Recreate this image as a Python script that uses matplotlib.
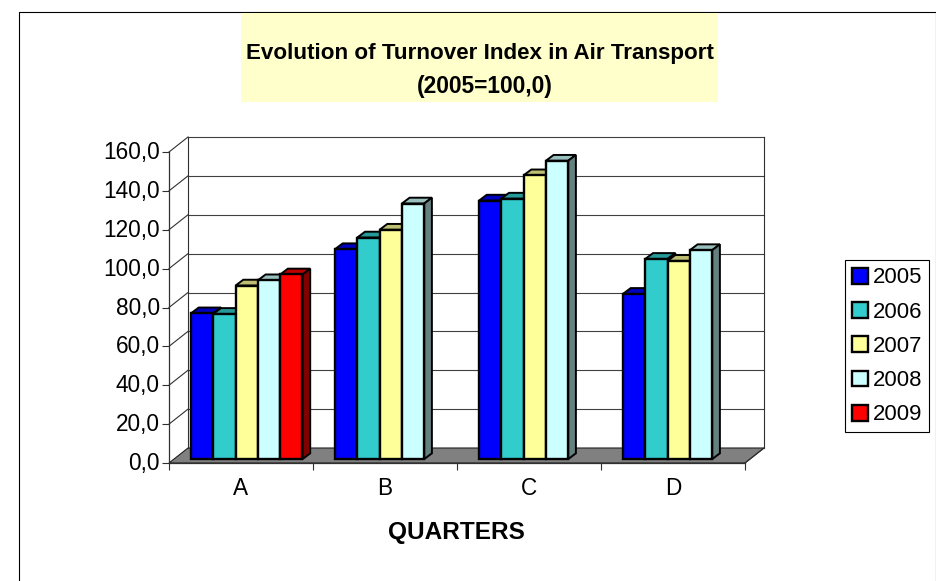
import matplotlib
matplotlib.use('Agg')
import numpy as np
import matplotlib.pyplot as plt
from matplotlib.patches import Polygon, Rectangle
from matplotlib.transforms import ScaledTranslation

plt.rcParams['font.family'] = ['Liberation Sans', 'DejaVu Sans']

quarters = ['A', 'B', 'C', 'D']
y2005 = [75.0, 108.0, 133.0, 85.0]
y2006 = [74.7, 114.0, 134.0, 103.0]
y2007 = [89.3, 118.0, 146.0, 102.0]
y2008 = [92.0, 131.5, 153.5, 107.5]
y2009 = [95.0]
years = ['2005', '2006', '2007', '2008', '2009']
series = [y2005, y2006, y2007, y2008, y2009]
colors = ['#0000FF', '#33CCCC', '#FFFF99', '#CCFFFF', '#FF0000']
yticks = [0, 20, 40, 60, 80, 100, 120, 140, 160]
yticklabels = ['0,0', '20,0', '40,0', '60,0', '80,0', '100,0', '120,0', '140,0', '160,0']

W, H = 937, 581
fig = plt.figure(figsize=(W / 100, H / 100), dpi=100)

# chart frame and title background, in pixels
bg = fig.add_axes([0, 0, 1, 1])
bg.set_xlim(0, W)
bg.set_ylim(H, 0)
bg.axis('off')
bg.add_patch(Rectangle((19, 12), 917, 580, fc='white', ec='black', lw=0.8))
bg.add_patch(Rectangle((241, 13), 477, 89, fc='#FFFFCC', ec='none'))

ax = fig.add_axes([169 / W, 1 - 463 / H, 576 / W, 311 / H])
ax.set_xlim(0, 4)
ax.set_ylim(0, 160)
ax.patch.set_alpha(0)

px = 4 / 576                 # data units per pixel
py = 160 / 311
wall_dx, wall_dy = 19 * px, 15 * py
dep_dx, dep_dy = 7.7 * px, 5.8 * py
base = 2.0
bw = 22.3 * px
start = 22 * px


def shade(c, f):
    c = np.array(matplotlib.colors.to_rgb(c))
    return tuple(c * f)


# floor and walls
ax.add_patch(Polygon([(0, 0), (4, 0), (4 + wall_dx, wall_dy), (wall_dx, wall_dy)],
                     fc='#808080', ec='#202020', lw=0.8, clip_on=False, zorder=1))
for t in yticks[1:]:
    ax.plot([0, wall_dx], [t, t + wall_dy], color='#303030', lw=0.8, clip_on=False, zorder=1)
    ax.plot([wall_dx, 4 + wall_dx], [t + wall_dy, t + wall_dy], color='#404040', lw=0.8,
            clip_on=False, zorder=1)
ax.plot([wall_dx, wall_dx], [wall_dy, 160 + wall_dy], color='#303030', lw=0.8, clip_on=False, zorder=1)
ax.plot([4 + wall_dx, 4 + wall_dx], [wall_dy, 160 + wall_dy], color='#303030', lw=0.8,
        clip_on=False, zorder=1)
ax.plot([4, 4 + wall_dx], [0, wall_dy], color='#303030', lw=0.8, clip_on=False, zorder=1)

handles = []
for i, (name, vals, col) in enumerate(zip(years, series, colors)):
    x = np.arange(len(vals)) + start + i * bw
    z = 3 + i
    bars = ax.bar(x, vals, bw, bottom=base, align='edge', color=col, edgecolor='black',
                  linewidth=1.7, zorder=z + 0.5, label=name, clip_on=False)
    handles.append(bars)
    for xi, v in zip(x, vals):
        top = base + v
        ax.add_patch(Polygon([(xi, top), (xi + bw, top), (xi + bw + dep_dx, top + dep_dy),
                              (xi + dep_dx, top + dep_dy)], fc=shade(col, 0.75), ec='black',
                             lw=1.4, clip_on=False, zorder=z))
        ax.add_patch(Polygon([(xi + bw, base), (xi + bw + dep_dx, base + dep_dy),
                              (xi + bw + dep_dx, top + dep_dy), (xi + bw, top)],
                             fc=shade(col, 0.5), ec='black', lw=1.4, clip_on=False, zorder=z))

for s in ['top', 'right']:
    ax.spines[s].set_visible(False)
for s in ['left', 'bottom']:
    ax.spines[s].set_color('#303030')
    ax.spines[s].set_linewidth(0.9)
    ax.spines[s].set_zorder(2)

ax.set_yticks(yticks)
ax.set_yticklabels(yticklabels, fontsize=16.3)
ax.tick_params(axis='y', length=5, width=0.8, color='#303030', pad=1.6)
# labels sit 2 px above their ticks in the original
nudge = ScaledTranslation(0, 2 / 100, fig.dpi_scale_trans)
for lab in ax.get_yticklabels():
    lab.set_transform(lab.get_transform() + nudge)
ax.set_xticks(range(5))
ax.set_xticklabels([])
ax.set_xticks(np.arange(4) + 0.5, minor=True)
ax.set_xticklabels(quarters, minor=True, fontsize=16.3)
ax.tick_params(axis='x', which='major', length=5, width=0.8, color='#303030')
ax.tick_params(axis='x', which='minor', length=0, pad=10)

fig.text(479.5 / W, 1 - 54 / H, 'Evolution of Turnover Index in Air Transport', fontsize=16.1,
         fontweight='bold', ha='center', va='center')
fig.text(484.5 / W, 1 - 86 / H, '(2005=100,0)', fontsize=16.4, fontweight='bold', ha='center', va='center')
fig.text(456.5 / W, 1 - 532.5 / H, 'QUARTERS', fontsize=17.6, fontweight='bold', ha='center', va='center')

leg = fig.legend(handles=handles, loc='lower left',
                 bbox_to_anchor=(845 / W, 1 - 432.5 / H), bbox_transform=fig.transFigure,
                 fontsize=15.9, frameon=True, fancybox=False, framealpha=1, edgecolor='black',
                 borderaxespad=0, handlelength=0.73, handleheight=0.73, handletextpad=0.2,
                 labelspacing=0.6, borderpad=0.32)
leg.get_frame().set_linewidth(0.8)

fig.savefig('out.png', dpi=100)
